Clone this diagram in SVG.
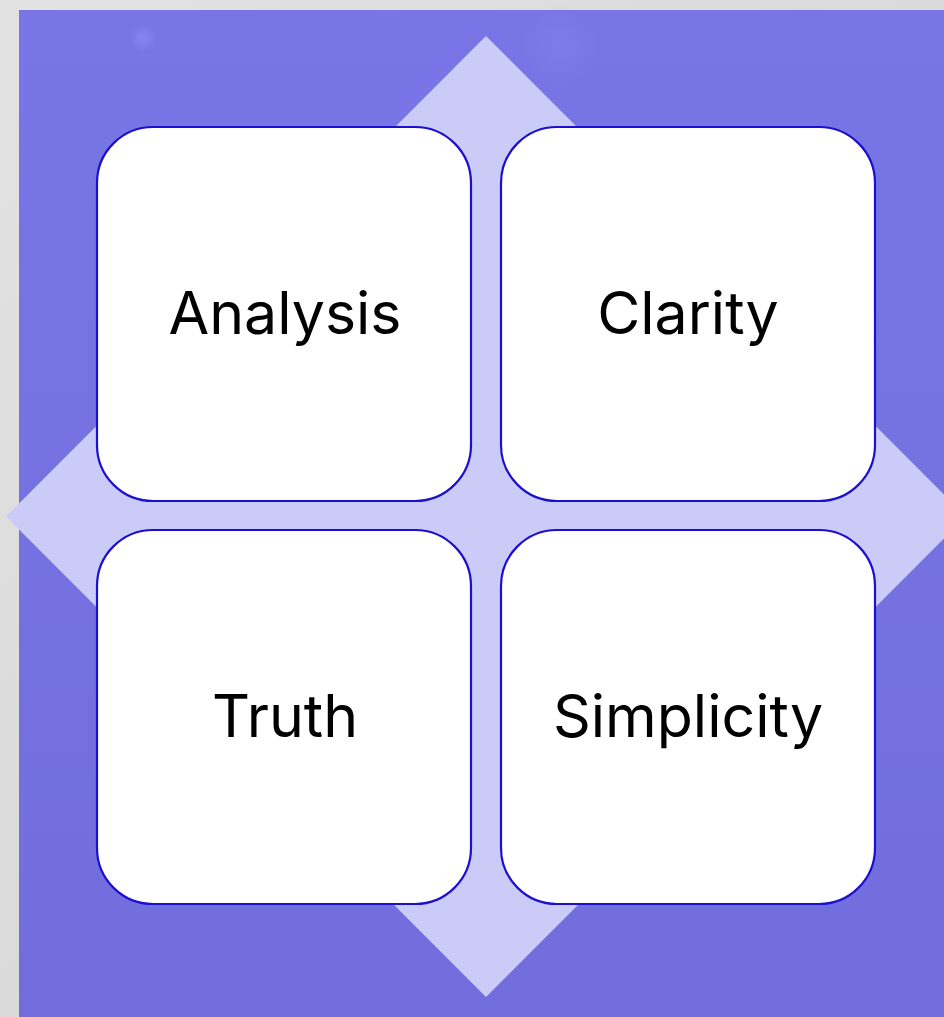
<svg xmlns="http://www.w3.org/2000/svg" width="944" height="1017" viewBox="0 0 944 1017">
  <defs>
    <linearGradient id="bgGrad" x1="0" y1="0" x2="1" y2="1">
      <stop offset="0" stop-color="#e2e2e2"/>
      <stop offset="0.5" stop-color="#dadada"/>
      <stop offset="1" stop-color="#d6d6d6"/>
    </linearGradient>
    <linearGradient id="panelGrad" x1="0" y1="0" x2="0" y2="1">
      <stop offset="0" stop-color="#7876e6"/>
      <stop offset="1" stop-color="#716ddc"/>
    </linearGradient>
    <radialGradient id="glow" cx="0.5" cy="0.5" r="0.5">
      <stop offset="0" stop-color="#8a88f4" stop-opacity="0.8"/>
      <stop offset="1" stop-color="#8a88f4" stop-opacity="0"/>
    </radialGradient>
    <style>
      .card { fill: #ffffff; stroke: #1c0fd0; stroke-width: 2.2; }
      .label { font-family: Inter, "Liberation Sans", sans-serif; font-size: 59px; fill: #000000; text-anchor: middle; dominant-baseline: central; }
    </style>
  </defs>

  <!-- page background -->
  <rect x="0" y="0" width="944" height="1017" fill="url(#bgGrad)"/>

  <!-- purple panel -->
  <rect x="19" y="10" width="925" height="1007" fill="url(#panelGrad)"/>
  <circle cx="143" cy="38" r="14" fill="url(#glow)"/>
  <circle cx="560" cy="45" r="40" fill="url(#glow)" opacity="0.4"/>

  <!-- diamond backdrop -->
  <polygon points="486,36 966,516.5 486,997 6,516.5" fill="#cbcbf8"/>

  <g id="analysis">
    <rect class="card" x="97" y="127" width="374" height="374" rx="56" ry="56"/>
    <text class="label" x="285" y="312">Analysis</text>
  </g>
  <g id="clarity">
    <rect class="card" x="501" y="127" width="374" height="374" rx="56" ry="56"/>
    <text class="label" x="688" y="312">Clarity</text>
  </g>
  <g id="truth">
    <rect class="card" x="97" y="530" width="374" height="374" rx="56" ry="56"/>
    <text class="label" x="285" y="715">Truth</text>
  </g>
  <g id="simplicity">
    <rect class="card" x="501" y="530" width="374" height="374" rx="56" ry="56"/>
    <text class="label" x="688" y="715">Simplicity</text>
  </g>

  <g id="connectors"/>
</svg>
